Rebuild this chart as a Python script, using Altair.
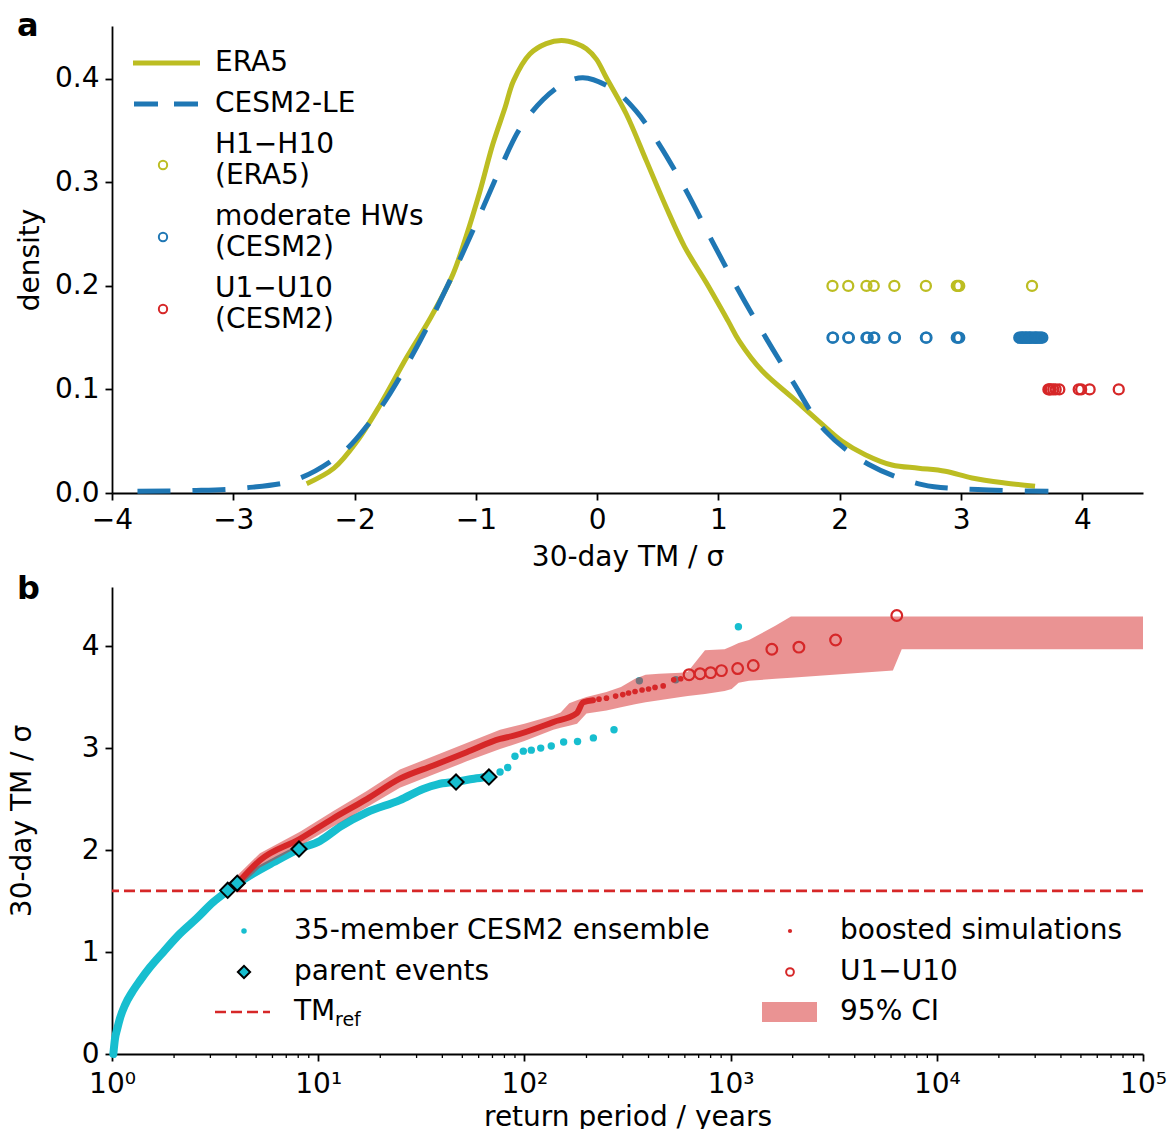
import altair as alt
import pandas as pd

FONT = "DejaVu Sans"
FS = 28

# ---------------- panel a data ----------------
era5_x = [-2.395, -2.17, -1.98, -1.79, -1.57, -1.37, -1.19, -1.08, -0.97, -0.86, -0.76, -0.69,
          -0.555, -0.42, -0.294, -0.171, -0.089, -0.007, 0.076, 0.24, 0.405, 0.569, 0.72, 0.90,
          1.08, 1.17, 1.36, 1.61, 1.83, 2.02, 2.21, 2.43, 2.65, 2.87, 3.09, 3.36, 3.61]
era5_d = [0.009, 0.024, 0.050, 0.085, 0.131, 0.170, 0.211, 0.248, 0.290, 0.337, 0.372, 0.398,
          0.424, 0.434, 0.437, 0.434, 0.429, 0.419, 0.401, 0.366, 0.321, 0.276, 0.238, 0.203,
          0.166, 0.147, 0.118, 0.092, 0.069, 0.050, 0.037, 0.027, 0.024, 0.021, 0.0145, 0.0097, 0.0065]

cesm_x = [-3.79, -3.35, -2.91, -2.47, -2.09, -1.87, -1.73, -1.46, -1.19, -0.966, -0.80, -0.637,
          -0.445, -0.28, -0.117, 0.13, 0.32, 0.51, 0.733, 0.94, 1.145, 1.36, 1.61, 1.88, 2.24,
          2.68, 3.14, 3.72]
cesm_d = [0.0016, 0.0023, 0.0048, 0.0135, 0.040, 0.069, 0.092, 0.147, 0.211, 0.269, 0.313, 0.352,
          0.380, 0.395, 0.401, 0.390, 0.369, 0.337, 0.292, 0.245, 0.200, 0.156, 0.108, 0.060,
          0.0275, 0.0081, 0.0033, 0.0016]

h_vals = [1.94, 2.07, 2.22, 2.28, 2.45, 2.71, 2.965, 2.975, 2.985, 3.585]
mod_vals = [1.94, 1.945, 2.07, 2.075, 2.22, 2.23, 2.28, 2.285, 2.45, 2.455, 2.71, 2.715,
            2.965, 2.975, 2.985, 3.48, 3.49, 3.50, 3.505, 3.51, 3.52, 3.53, 3.535, 3.54,
            3.55, 3.56, 3.565, 3.57, 3.58, 3.59, 3.60, 3.61, 3.615, 3.62, 3.63, 3.64, 3.65,
            3.66, 3.67]
u_vals = [3.72, 3.73, 3.74, 3.76, 3.78, 3.81, 3.97, 3.99, 4.06, 4.30]
row_levels = [0.2, 0.15, 0.1]

# ---------------- panel b data ----------------
ens_rp = [1.015, 1.034, 1.061, 1.093, 1.156, 1.246, 1.367, 1.528, 1.773, 2.137, 2.574, 3.101,
          3.64, 4.05, 4.84, 6.06, 8.07, 10.2, 12.8, 17.2, 24.9, 32.3, 38.0, 46.6, 57.0, 66.8]
ens_tm = [0.00, 0.15, 0.25, 0.35, 0.48, 0.60, 0.72, 0.85, 1.00, 1.18, 1.33, 1.49,
          1.60, 1.67, 1.77, 1.88, 2.01, 2.09, 2.23, 2.37, 2.49, 2.60, 2.645, 2.67, 2.70, 2.72]
ens_tail_rp = [76.2, 83, 90, 98.8, 108, 120, 135, 155, 181, 216, 272, 361, 542, 1091]
ens_tail_tm = [2.765, 2.81, 2.92, 2.97, 2.98, 3.00, 3.02, 3.06, 3.065, 3.10, 3.18, 3.66, 3.67, 4.19]

boost_rp = [4.05, 5.22, 8.16, 11.8, 17.2, 24.9, 36.2, 52.5, 76.2, 88, 138, 179, 193, 215]
boost_tm = [1.67, 1.90, 2.11, 2.31, 2.50, 2.70, 2.83, 2.96, 3.09, 3.12, 3.255, 3.34, 3.45, 3.47]
boost_tail_rp = [230, 250, 277, 300, 320, 344, 372, 400, 430, 471, 530, 573]
boost_tail_tm = [3.48, 3.49, 3.51, 3.525, 3.54, 3.555, 3.57, 3.58, 3.595, 3.61, 3.67, 3.68]

u_rp = [629, 711, 800, 903, 1082, 1288, 1585, 2144, 3229, 6396]

parent_rp = [3.64, 4.05, 8.07, 46.6, 67.3]
parent_tm = [1.605, 1.675, 2.01, 2.667, 2.716]

ci_rp = [4.05, 5.22, 8.16, 11.8, 17.2, 24.9, 36.2, 52.5, 76.2, 100, 138, 150, 165, 180, 200,
         250, 294, 344, 387, 450, 573, 620, 751, 935, 1012, 1094, 1228, 1648, 1963, 6124, 6760,
         100000]
ci_lo = [1.62, 1.83, 2.04, 2.23, 2.42, 2.61, 2.74, 2.87, 2.99, 3.07, 3.18, 3.20, 3.22, 3.24, 3.34,
         3.37, 3.40, 3.43, 3.45, 3.47, 3.50, 3.51, 3.53, 3.56, 3.58, 3.64, 3.66, 3.68, 3.69, 3.76,
         3.97, 3.97]
ci_hi = [1.75, 1.97, 2.18, 2.38, 2.58, 2.79, 2.92, 3.05, 3.18, 3.24, 3.32, 3.35, 3.44, 3.47, 3.50,
         3.55, 3.60, 3.68, 3.72, 3.73, 3.74, 3.75, 3.96, 3.97, 4.00, 4.03, 4.06, 4.20, 4.29, 4.29,
         4.29, 4.29]

tm_ref = [1.6]
major_b = [1, 10, 100, 1000, 10000, 100000]
minor_b = [m * 10 ** k for k in range(5) for m in range(2, 10)]

# colours
C_ERA = "#bcbd22"
C_BLUE = "#1f77b4"
C_RED = "#d62728"
C_CYAN = "#17becf"

W, H = 1031, 467
dummy = pd.DataFrame({"k": [0]})


def txt(s, x, y, size=FS, weight="normal", baseline="middle", dy=0):
    return alt.Chart(dummy).mark_text(
        text=s, fontSize=size, fontWeight=weight, align="left", baseline=baseline,
        dy=dy, font=FONT, color="black"
    ).encode(x=alt.value(x), y=alt.value(y))


# ---------------- panel a ----------------
xa = alt.Scale(domain=[-4, 4.5], nice=False, zero=False)
ya = alt.Scale(domain=[0, 0.451], nice=False)
ax_xa = alt.Axis(values=[-4, -3, -2, -1, 0, 1, 2, 3, 4], format="d", title="30-day TM / σ",
                 titleX=W / 2, titleY=64, titleBaseline="middle")
ax_ya = alt.Axis(values=[0, 0.1, 0.2, 0.3, 0.4], format=".1f", title="density",
                 titleX=-82, titleY=H / 2, titleBaseline="middle", titleAngle=270)

df_era = pd.DataFrame({"x": era5_x, "d": era5_d})
df_cesm = pd.DataFrame({"x": cesm_x, "d": cesm_d})

era_line = alt.Chart(df_era).mark_line(color=C_ERA, strokeWidth=5, interpolate="catmull-rom").encode(
    x=alt.X("x:Q", scale=xa, axis=ax_xa), y=alt.Y("d:Q", scale=ya, axis=ax_ya))
cesm_line = alt.Chart(df_cesm).mark_line(color=C_BLUE, strokeWidth=5, strokeDash=[33, 22],
                                         interpolate="catmull-rom").encode(
    x=alt.X("x:Q", scale=xa, axis=ax_xa), y=alt.Y("d:Q", scale=ya, axis=ax_ya))


def ring_layer(vals, level, color):
    df = pd.DataFrame({"x": vals, "d": [level] * len(vals)})
    return alt.Chart(df).mark_point(shape="circle", filled=False, size=100, strokeWidth=2.3,
                                    color=color, opacity=1).encode(
        x=alt.X("x:Q", scale=xa, axis=ax_xa), y=alt.Y("d:Q", scale=ya, axis=ax_ya))


pts_h = ring_layer(h_vals, row_levels[0], C_ERA)
pts_m = ring_layer(mod_vals, row_levels[1], C_BLUE)
pts_u = ring_layer(u_vals, row_levels[2], C_RED)

leg_a = [
    alt.Chart(dummy).mark_rule(color=C_ERA, strokeWidth=5).encode(
        x=alt.value(21), x2=alt.value(88), y=alt.value(37)),
    alt.Chart(dummy).mark_rule(color=C_BLUE, strokeWidth=5, strokeDash=[24, 16]).encode(
        x=alt.value(22), x2=alt.value(88), y=alt.value(78)),
    alt.Chart(dummy).mark_point(shape="circle", filled=False, size=70, strokeWidth=2,
                                color=C_ERA, opacity=1).encode(x=alt.value(51), y=alt.value(139)),
    alt.Chart(dummy).mark_point(shape="circle", filled=False, size=70, strokeWidth=2,
                                color=C_BLUE, opacity=1).encode(x=alt.value(51), y=alt.value(211)),
    alt.Chart(dummy).mark_point(shape="circle", filled=False, size=70, strokeWidth=2,
                                color=C_RED, opacity=1).encode(x=alt.value(51), y=alt.value(283)),
    txt("ERA5", 103, 37), txt("CESM2-LE", 103, 78),
    txt("H1−H10", 103, 119), txt("(ERA5)", 103, 150),
    txt("moderate HWs", 103, 191), txt("(CESM2)", 103, 222),
    txt("U1−U10", 103, 263), txt("(CESM2)", 103, 294),
    txt("a", -95, 10, size=32, weight="bold", baseline="alphabetic"),
]

panel_a = alt.layer(era_line, cesm_line, pts_h, pts_m, pts_u, *leg_a).properties(width=W, height=H)

# ---------------- panel b ----------------
xb = alt.Scale(type="log", domain=[1, 100000], nice=False)
yb = alt.Scale(domain=[0, 4.58], nice=False)
ax_xb = alt.Axis(values=major_b,
                 labelExpr="['10⁰','10¹','10²','10³','10⁴','10⁵'][round(log(datum.value)/LN10)]",
                 title="return period / years", titleX=W / 2, titleY=63, titleBaseline="middle",
                 labelPadding=9)
ax_yb = alt.Axis(values=[0, 1, 2, 3, 4], format="d", title="30-day TM / σ",
                 titleX=-90, titleY=H / 2, titleBaseline="middle", titleAngle=270)


def enc(chart, xf="rp", yf="tm"):
    return chart.encode(x=alt.X(f"{xf}:Q", scale=xb, axis=ax_xb),
                        y=alt.Y(f"{yf}:Q", scale=yb, axis=ax_yb))


df_minor = pd.DataFrame({"rp": minor_b})
minor_ticks = alt.Chart(df_minor).mark_rule(color="black", strokeWidth=1.3).encode(
    x=alt.X("rp:Q", scale=xb, axis=ax_xb), y=alt.value(H), y2=alt.value(H + 4))

df_ref = pd.DataFrame({"tm": tm_ref})
ref_rule = alt.Chart(df_ref).mark_rule(color=C_RED, strokeWidth=2.6, strokeDash=[11, 5]).encode(
    y=alt.Y("tm:Q", scale=yb, axis=ax_yb))

ens_line = enc(alt.Chart(pd.DataFrame({"rp": ens_rp, "tm": ens_tm})).mark_line(
    color=C_CYAN, strokeWidth=8, strokeCap="round", interpolate="monotone"))
ens_dots = enc(alt.Chart(pd.DataFrame({"rp": ens_tail_rp, "tm": ens_tail_tm})).mark_circle(
    color=C_CYAN, size=55, opacity=1))
ci_area = alt.Chart(pd.DataFrame({"rp": ci_rp, "lo": ci_lo, "hi": ci_hi})).mark_area(
    color=C_RED, opacity=0.5).encode(
    x=alt.X("rp:Q", scale=xb, axis=ax_xb), y=alt.Y("lo:Q", scale=yb, axis=ax_yb), y2="hi:Q")
boost_line = enc(alt.Chart(pd.DataFrame({"rp": boost_rp, "tm": boost_tm})).mark_line(
    color=C_RED, strokeWidth=6, strokeCap="round", interpolate="monotone"))
boost_dots = enc(alt.Chart(pd.DataFrame({"rp": boost_tail_rp, "tm": boost_tail_tm})).mark_circle(
    color=C_RED, size=32, opacity=1))
u_pts = enc(alt.Chart(pd.DataFrame({"rp": u_rp, "tm": u_vals})).mark_point(
    shape="circle", filled=False, size=115, strokeWidth=2.2, color=C_RED, opacity=1))
parents = enc(alt.Chart(pd.DataFrame({"rp": parent_rp, "tm": parent_tm})).mark_point(
    shape="diamond", filled=True, fill=C_CYAN, stroke="black", strokeWidth=2, size=230,
    opacity=1, fillOpacity=1, strokeOpacity=1))

leg_b = [
    alt.Chart(dummy).mark_circle(color=C_CYAN, size=30, opacity=1).encode(
        x=alt.value(132), y=alt.value(344)),
    alt.Chart(dummy).mark_point(shape="diamond", filled=True, fill=C_CYAN, stroke="black",
                                strokeWidth=2, size=150, opacity=1).encode(
        x=alt.value(132), y=alt.value(385)),
    alt.Chart(dummy).mark_rule(color=C_RED, strokeWidth=2.6, strokeDash=[11, 5]).encode(
        x=alt.value(103), x2=alt.value(158), y=alt.value(425)),
    alt.Chart(dummy).mark_circle(color=C_RED, size=18, opacity=1).encode(
        x=alt.value(678), y=alt.value(344)),
    alt.Chart(dummy).mark_point(shape="circle", filled=False, size=60, strokeWidth=2,
                                color=C_RED, opacity=1).encode(x=alt.value(678), y=alt.value(385)),
    alt.Chart(dummy).mark_rect(color=C_RED, opacity=0.5).encode(
        x=alt.value(650), x2=alt.value(705), y=alt.value(415), y2=alt.value(435)),
    txt("35-member CESM2 ensemble", 182, 344), txt("parent events", 182, 385),
    txt("TM", 182, 425), txt("ref", 223, 425, size=19, dy=8),
    txt("boosted simulations", 728, 344), txt("U1−U10", 728, 385), txt("95% CI", 728, 425),
    txt("b", -95, 12, size=32, weight="bold", baseline="alphabetic"),
]

panel_b = alt.layer(minor_ticks, ref_rule, ens_line, ens_dots, ci_area, boost_line, boost_dots,
                    u_pts, parents, *leg_b).properties(width=W, height=H)

chart = alt.vconcat(panel_a, panel_b, spacing=2).properties(
    padding={"left": 8, "top": 10, "right": 0, "bottom": 0}
).configure(font=FONT).configure_view(stroke=None).configure_axis(
    domainColor="black", domainWidth=1.8, tickColor="black", tickWidth=1.8, tickSize=7,
    labelFontSize=FS, titleFontSize=FS, labelColor="black", titleColor="black",
    titleFontWeight="normal", labelPadding=6, grid=False, labelFont=FONT, titleFont=FONT,
    labelFlush=False, labelOverlap=False
)

chart.save("out.html", embed_options={"renderer": "svg", "actions": False})
